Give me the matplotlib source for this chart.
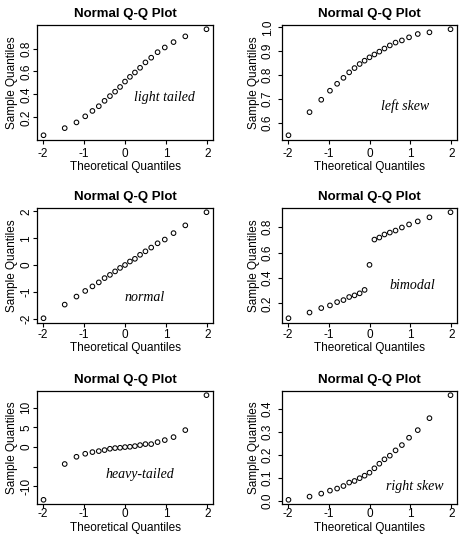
import matplotlib
matplotlib.use("Agg")
import matplotlib.pyplot as plt

theoretical = [-1.981, -1.466, -1.180, -0.967, -0.792, -0.637, -0.497, -0.366, -0.241, -0.120,
               0.0, 0.120, 0.241, 0.366, 0.497, 0.637, 0.792, 0.967, 1.180, 1.466, 1.981]

light_tailed = [0.044, 0.106, 0.156, 0.209, 0.256, 0.297, 0.344, 0.385, 0.424, 0.465, 0.512,
                0.553, 0.591, 0.632, 0.679, 0.720, 0.768, 0.809, 0.856, 0.906, 0.968]
left_skew = [0.547, 0.644, 0.696, 0.734, 0.763, 0.788, 0.811, 0.829, 0.846, 0.860, 0.874,
             0.886, 0.898, 0.911, 0.924, 0.936, 0.945, 0.958, 0.972, 0.979, 0.992]
normal = [-1.99, -1.48, -1.18, -0.97, -0.80, -0.65, -0.49, -0.37, -0.24, -0.11, 0.0,
          0.13, 0.23, 0.38, 0.51, 0.65, 0.81, 0.95, 1.19, 1.48, 1.97]
bimodal = [0.083, 0.128, 0.163, 0.184, 0.210, 0.226, 0.250, 0.263, 0.279, 0.306, 0.503,
           0.702, 0.718, 0.742, 0.757, 0.773, 0.797, 0.821, 0.845, 0.877, 0.917]
heavy_tailed = [-13.4, -4.3, -2.46, -1.69, -1.27, -1.02, -0.76, -0.42, -0.25, -0.17, 0.0,
                0.08, 0.25, 0.51, 0.76, 0.76, 1.27, 1.78, 2.54, 4.32, 13.2]
right_skew = [0.006, 0.020, 0.033, 0.046, 0.055, 0.066, 0.081, 0.088, 0.100, 0.111, 0.124,
              0.143, 0.163, 0.182, 0.198, 0.221, 0.244, 0.276, 0.309, 0.361, 0.461]

x_ticks = [-2, -1, 0, 1, 2]
panels = [
    ("light tailed", light_tailed, [0.2, 0.4, 0.6, 0.8], ["0.2", "0.4", "0.6", "0.8"], (0.97, 0.37)),
    ("left skew", left_skew, [0.6, 0.7, 0.8, 0.9, 1.0], ["0.6", "0.7", "0.8", "0.9", "1.0"], (0.86, 0.668)),
    ("normal", normal, [-2, -1, 0, 1, 2], ["-2", "-1", "0", "1", "2"], (0.47, -1.2)),
    ("bimodal", bimodal, [0.2, 0.4, 0.6, 0.8], ["0.2", "0.4", "0.6", "0.8"], (1.05, 0.338)),
    ("heavy-tailed", heavy_tailed, [-10, -5, 0, 5, 10], ["-10", "", "0", "5", "10"], (0.36, -7.0)),
    ("right skew", right_skew, [0.0, 0.1, 0.2, 0.3, 0.4], ["0.0", "0.1", "0.2", "0.3", "0.4"], (1.1, 0.065)),
]

W, H = 468, 537
# (left, top, width, height) in pixels
rects = [(37, 25, 176, 114.5), (282, 25, 175, 114.5),
         (37, 208, 176, 114.5), (282, 208, 175, 114.5),
         (37, 391, 176, 113), (282, 391, 175, 113)]
xpads = [3.2, 3.2, 1.6, 1.6, 0.0, 0.0]
xlabelpads = [1.0, 1.0, 1.0, 1.0, 1.5, 1.5]
ypads = [0.5, 3.0, 0.5, 3.0, 0.5, 3.0]
ylabelpads = [1.5, 1.5, 1.5, 1.5, 1.5, 1.5]

plt.rcParams['font.family'] = ['Liberation Sans', 'DejaVu Sans']
fig = plt.figure(figsize=(W / 100, H / 100), dpi=100)
fig.patch.set_facecolor('white')

def rlim(vals):
    lo, hi = min(vals), max(vals)
    pad = 0.04 * (hi - lo)
    return lo - pad, hi + pad

for i, ((label, vals, yt, ytl, tpos), (l, t, w, h)) in enumerate(zip(panels, rects)):
    ax = fig.add_axes([l / W, 1 - (t + h) / H, w / W, h / H])
    ax.scatter(theoretical, vals, s=11, facecolors='none', edgecolors='black', linewidths=0.75)
    ax.set_xlim(rlim(theoretical))
    ax.set_ylim(rlim(vals))
    ax.set_xticks(x_ticks)
    ax.set_xticklabels([str(v) for v in x_ticks], fontsize=8.5)
    ax.set_yticks(yt)
    ax.set_yticklabels(ytl, fontsize=8.5, rotation=90, va='center')
    ax.tick_params(direction='out', length=2.8, width=0.8)
    ax.tick_params(axis='x', pad=xpads[i])
    ax.tick_params(axis='y', pad=ypads[i])
    for s in ax.spines.values():
        s.set_linewidth(0.9)
    ax.set_title("Normal Q-Q Plot", fontsize=9.5, fontweight='bold', pad=6)
    ax.set_xlabel("Theoretical Quantiles", fontsize=8.5, labelpad=xlabelpads[i])
    ax.set_ylabel("Sample Quantiles", fontsize=8.5, labelpad=ylabelpads[i])
    ax.text(tpos[0], tpos[1], label, fontsize=10, style='italic',
            family=['Liberation Serif', 'DejaVu Serif'], ha='center', va='center')

fig.savefig("out.png", dpi=100, facecolor='white')
